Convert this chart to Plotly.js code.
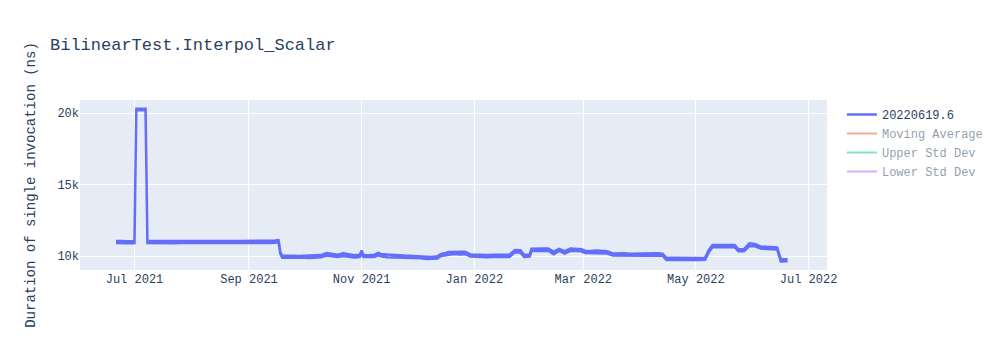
<!DOCTYPE html>
<html>
<head>
<meta charset="utf-8">
<script src="https://cdn.plot.ly/plotly-3.0.1.min.js"></script>
<style>html,body{margin:0;padding:0;background:#fff;}#chart{width:1000px;height:350px;}</style>
</head>
<body>
<div id="chart"></div>
<script>
const chartTitle = "BilinearTest.Interpol_Scalar";
const yTitle = "Duration of single invocation (ns)";
const seriesNames = ["20220619.6", "Moving Average", "Upper Std Dev", "Lower Std Dev"];

// run dates and the low / high measurement seen on each date (ns)
const dates = [
"2021-06-21","2021-06-24","2021-06-27","2021-06-30","2021-07-01",
"2021-07-02","2021-07-04","2021-07-06","2021-07-07",
"2021-07-08","2021-07-11","2021-07-14","2021-07-17","2021-07-20","2021-07-23","2021-07-26","2021-07-29",
"2021-08-01","2021-08-04","2021-08-07","2021-08-10","2021-08-13","2021-08-16","2021-08-19","2021-08-22",
"2021-08-25","2021-08-28","2021-08-31","2021-09-03","2021-09-06","2021-09-09","2021-09-12","2021-09-15","2021-09-17",
"2021-09-18",
"2021-09-19","2021-09-22","2021-09-25","2021-09-28","2021-10-01","2021-10-04","2021-10-07","2021-10-10",
"2021-10-13","2021-10-16","2021-10-19","2021-10-22","2021-10-25","2021-10-28","2021-10-31","2021-11-01",
"2021-11-02","2021-11-05","2021-11-08","2021-11-10","2021-11-12","2021-11-15","2021-11-18","2021-11-21",
"2021-11-24","2021-11-27","2021-11-30","2021-12-03","2021-12-06","2021-12-09","2021-12-12","2021-12-14","2021-12-16",
"2021-12-18","2021-12-21","2021-12-24","2021-12-27",
"2021-12-30","2022-01-02","2022-01-05","2022-01-08","2022-01-11","2022-01-14","2022-01-17","2022-01-20",
"2022-01-23","2022-01-26",
"2022-01-28","2022-01-31",
"2022-02-01","2022-02-04","2022-02-07","2022-02-10","2022-02-13","2022-02-16","2022-02-19","2022-02-22","2022-02-25","2022-02-28",
"2022-03-02","2022-03-05","2022-03-08","2022-03-11","2022-03-14",
"2022-03-17","2022-03-20","2022-03-23","2022-03-26","2022-03-29","2022-04-01","2022-04-04","2022-04-07","2022-04-10","2022-04-13",
"2022-04-15","2022-04-18","2022-04-21","2022-04-24","2022-04-27","2022-04-30","2022-05-03","2022-05-06",
"2022-05-08",
"2022-05-10","2022-05-13","2022-05-16","2022-05-19","2022-05-22",
"2022-05-24","2022-05-27",
"2022-05-30","2022-06-02",
"2022-06-05","2022-06-08","2022-06-11","2022-06-14",
"2022-06-16","2022-06-19"
];
const lowNs = [
10925,10935,10905,10895,10905,
20195,20195,20185,20195,
10925,10915,10925,10915,10925,10905,10925,10915,
10925,10915,10925,10915,10925,10915,10925,10915,
10925,10915,10925,10915,10925,10935,10925,10935,10965,
10165,
9885,9895,9875,9865,9885,9875,9895,9915,
10035,10005,9945,10015,9965,9905,9935,10195,
9935,9915,9945,10065,9975,9915,9905,9915,
9895,9885,9875,9845,9805,9795,9835,10005,10045,
10125,10145,10115,10135,
9965,9935,9945,9925,9935,9955,9935,9945,
10265,10245,
9935,9965,
10355,10385,10365,10375,10135,10365,10185,10375,10355,10335,
10225,10205,10235,10215,10185,
10045,10035,10045,10025,10035,10045,10025,10035,10045,10025,
9725,9735,9725,9715,9725,9735,9725,9745,
10265,
10625,10635,10625,10615,10625,
10335,10345,
10705,10685,
10525,10505,10485,10465,
9625,9635
];
const highNs = [
11065,11055,11045,11035,11045,
20305,20305,20315,20305,
11065,11055,11075,11065,11055,11065,11075,11055,
11065,11075,11055,11065,11075,11055,11065,11075,
11065,11055,11075,11065,11055,11085,11075,11085,11115,
10285,
10035,10045,10025,10015,10035,10025,10055,10075,
10215,10165,10095,10195,10135,10055,10095,10395,
10075,10065,10105,10235,10125,10065,10055,10065,
10045,10035,10025,9995,9955,9935,9985,10155,10195,
10295,10315,10285,10305,
10115,10095,10105,10085,10095,10115,10085,10105,
10435,10415,
10095,10115,
10515,10545,10525,10535,10315,10515,10355,10525,10505,10485,
10375,10355,10385,10365,10335,
10185,10175,10195,10175,10185,10185,10175,10185,10195,10175,
9875,9885,9875,9865,9875,9885,9875,9895,
10435,
10775,10785,10775,10765,10775,
10485,10495,
10895,10855,
10675,10655,10635,10615,
9775,9785
];

// hidden (legend-only) companion series, rough levels
const statDates = ["2021-06-21","2021-09-17","2021-12-31","2022-03-31","2022-06-19"];
const movingAvgNs = [11000, 11050, 10050, 10150, 10450];
const upperStdNs = [11300, 11350, 10250, 10400, 10800];
const lowerStdNs = [10700, 10750, 9850, 9900, 10100];

// one ribbon-like path: forward along the low readings, back along the high readings
const xs = [], ys = [];
for (let i = 0; i < dates.length; i++) { xs.push(dates[i]); ys.push(lowNs[i]); }
for (let i = dates.length - 1; i >= 0; i--) { xs.push(dates[i]); ys.push(highNs[i]); }

const colors = ["#636efa", "#EF553B", "#00cc96", "#ab63fa"];
const traces = [
  {type: "scatter", mode: "lines", name: seriesNames[0], x: xs, y: ys,
   line: {color: colors[0], width: 2.5}},
  {type: "scatter", mode: "lines", name: seriesNames[1], x: statDates, y: movingAvgNs,
   line: {color: colors[1], width: 2}, visible: "legendonly"},
  {type: "scatter", mode: "lines", name: seriesNames[2], x: statDates, y: upperStdNs,
   line: {color: colors[2], width: 2}, visible: "legendonly"},
  {type: "scatter", mode: "lines", name: seriesNames[3], x: statDates, y: lowerStdNs,
   line: {color: colors[3], width: 2}, visible: "legendonly"}
];

const layout = {
  width: 1000, height: 350,
  showlegend: true,
  font: {family: '"Courier New", "Liberation Mono", monospace', size: 12, color: "#2a3f5f"},
  paper_bgcolor: "#ffffff",
  plot_bgcolor: "#E5ECF6",
  title: {text: chartTitle, x: 0.05, xanchor: "left", font: {size: 17}},
  margin: {t: 100, b: 80, l: 80, r: 80},
  xaxis: {type: "date", range: ["2021-06-01 12:00", "2022-07-11"],
          gridcolor: "white", linecolor: "white", zerolinecolor: "white",
          ticks: "", showline: false, zeroline: false, automargin: true},
  yaxis: {title: {text: yTitle, standoff: 18}, gridcolor: "white", linecolor: "white", zerolinecolor: "white",
          ticks: "", showline: false, zeroline: false, automargin: true},
  legend: {font: {size: 12}},
  hovermode: "closest"
};

Plotly.newPlot("chart", traces, layout, {displayModeBar: false, responsive: false});
</script>
</body>
</html>
